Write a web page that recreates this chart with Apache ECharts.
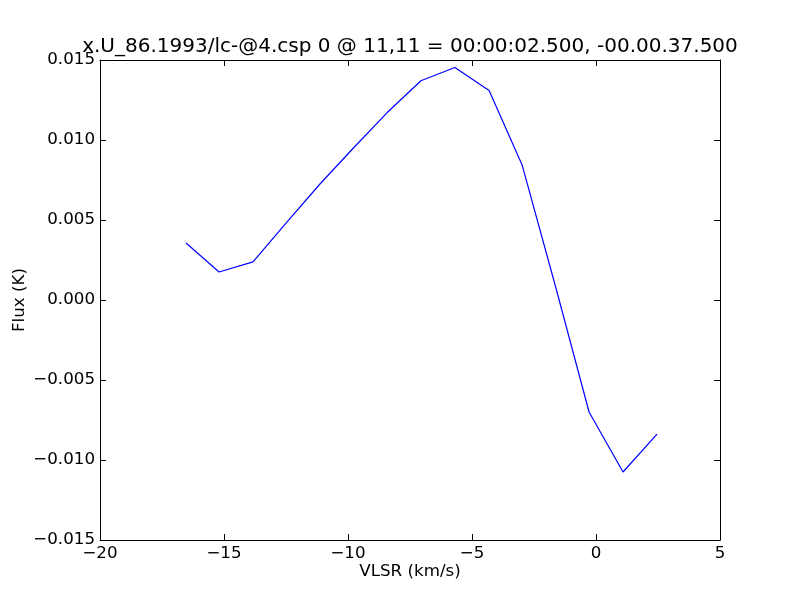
<!DOCTYPE html>
<html>
<head>
<meta charset="utf-8">
<script src="https://cdn.jsdelivr.net/npm/echarts@6/dist/echarts.min.js"></script>
<style>html,body{margin:0;padding:0;background:#fff}#c{width:800px;height:600px}</style>
</head>
<body>
<div id="c"></div>
<script>
const titleText = 'x.U_86.1993/lc-@4.csp 0 @ 11,11 = 00:00:02.500, -00.00.37.500';
const xName = 'VLSR (km/s)';
const yName = 'Flux (K)';
const vlsr = [-16.53, -15.20, -13.83, -12.50, -11.13, -9.80, -8.43, -7.06, -5.69, -4.31, -2.98, -1.61, -0.28, 1.09, 2.46];
const flux = [0.00356, 0.00175, 0.00238, 0.0048, 0.00725, 0.00947, 0.0117, 0.0137, 0.01453, 0.0131, 0.00844, 0.00072, -0.0070, -0.01075, -0.00838];

const FONT = 'DejaVu Sans';
const fmtMinus = s => s.replace('-', '\u2212');
const chart = echarts.init(document.getElementById('c'), null, {renderer: 'canvas'});
const common = {
  axisLine: {show: true, onZero: false, lineStyle: {color: '#000', width: 1}},
  axisTick: {show: true, inside: true, length: 6, lineStyle: {color: '#000', width: 1}},
  splitLine: {show: false}
};
chart.setOption({
  animation: false,
  backgroundColor: '#fff',
  title: {
    text: titleText, left: 410, top: 37, textAlign: 'center', padding: 0,
    textStyle: {fontFamily: FONT, fontSize: 20, fontWeight: 'normal', color: '#000'}
  },
  grid: {left: 100, right: 80, top: 60, bottom: 60, containLabel: false, outerBoundsMode: 'none'},
  xAxis: [
    Object.assign({
      type: 'value', min: -20, max: 5, interval: 5, position: 'bottom',
      name: xName, nameLocation: 'middle', nameGap: 23, nameMoveOverlap: false,
      nameTextStyle: {fontFamily: FONT, fontSize: 16.7, color: '#000'},
      axisLabel: {fontFamily: FONT, fontSize: 16.7, color: '#000', margin: 5, formatter: v => fmtMinus(String(v))}
    }, common),
    Object.assign({
      type: 'value', min: -20, max: 5, interval: 5, position: 'top',
      axisLabel: {show: false}
    }, common)
  ],
  yAxis: [
    Object.assign({
      type: 'value', min: -0.015, max: 0.015, interval: 0.005, position: 'left',
      name: yName, nameLocation: 'middle', nameGap: 72, nameRotate: 90, nameMoveOverlap: false,
      nameTextStyle: {fontFamily: FONT, fontSize: 16.7, color: '#000'},
      axisLabel: {fontFamily: FONT, fontSize: 16.7, color: '#000', margin: 5, formatter: v => fmtMinus(v.toFixed(3))}
    }, common),
    Object.assign({
      type: 'value', min: -0.015, max: 0.015, interval: 0.005, position: 'right',
      axisLabel: {show: false}
    }, common)
  ],
  series: [{
    type: 'line', xAxisIndex: 0, yAxisIndex: 0,
    data: vlsr.map((x, i) => [x, flux[i]]),
    showSymbol: false, symbol: 'none',
    lineStyle: {color: '#0000ff', width: 1.2},
    itemStyle: {color: '#0000ff'}
  }]
});
</script>
</body>
</html>
